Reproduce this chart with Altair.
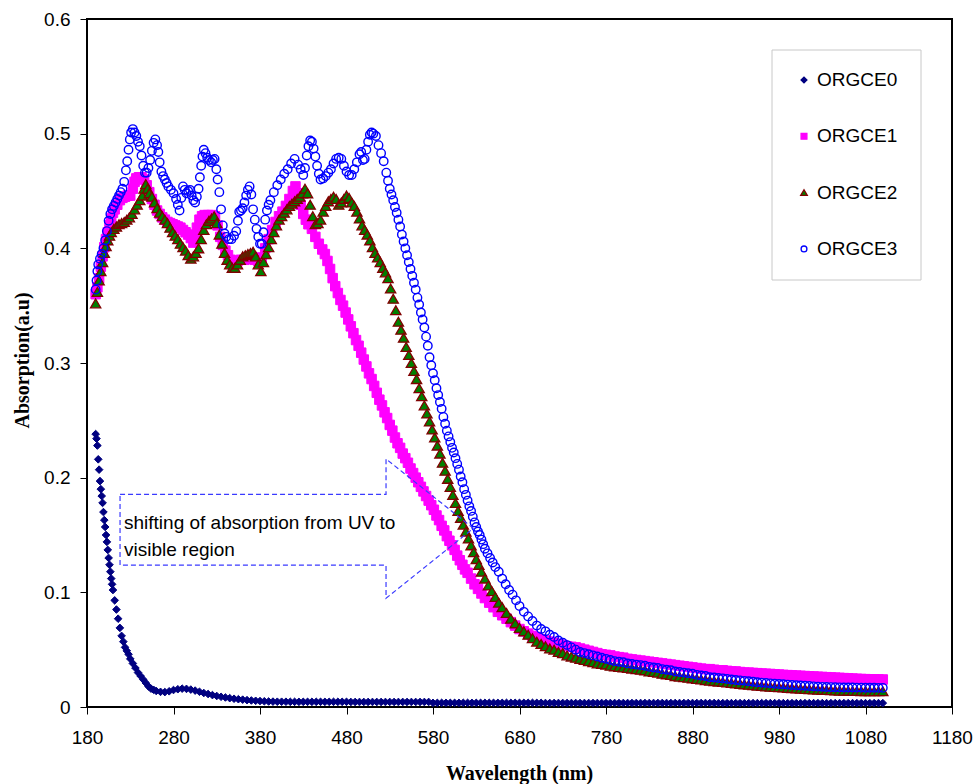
import altair as alt
import pandas as pd

SERIES = ["ORGCE0", "ORGCE1", "ORGCE2", "ORGCE3"]
SHAPES = ["diamond", "square", "triangle-up", "circle"]
FILLS = ["#000080", "#ff00ff", "#008000", "transparent"]
STROKES = ["#000080", "#ff00ff", "#800000", "#0000ff"]

# ---------- ORGCE0 (wavelength nm, absorption) ----------
orgce0_head = [(190, .238), (191, .234), (192, .228), (193, .216), (194, .207), (195, .197),
               (196, .190), (197, .184), (198, .178), (199, .170), (200, .163), (201, .157),
               (202, .150), (203, .144), (204, .137), (205, .130), (206, .124), (207, .118),
               (208, .112), (209, .107), (210, .102), (212, .093), (214, .085), (216, .077),
               (218, .069), (220, .062), (222, .057), (224, .052), (226, .049), (228, .046),
               (230, .042), (233, .038), (236, .034), (239, .030), (242, .027), (245, .024),
               (248, .021), (251, .018), (254, .016), (257, .015)]
orgce0_grid_start = 260
orgce0_grid = [
    .0140, .0132, .0130, .0137, .0148, .0155, .0160, .0158, .0152, .0143,
    .0133, .0122, .0113, .0104, .0096, .0089, .0083, .0077, .0072, .0068,
    .0064, .0060, .0057, .0054, .0052, .0050, .0048, .0047, .0046, .0046,
    .0046, .0045, .0045, .0045, .0045, .0045, .0045, .0045, .0045, .0045,
    .0045, .0045, .0045, .0045, .0045, .0044, .0044, .0044, .0044, .0044,
    .0044, .0044, .0044, .0044, .0044, .0044, .0044, .0044, .0044, .0044,
    .0044, .0044, .0044, .0044, .0036, .0036, .0036, .0036, .0036, .0036,
    .0036, .0036, .0036, .0036, .0036, .0036, .0036, .0036, .0036, .0036,
    .0036, .0036, .0036, .0036, .0036, .0036, .0036, .0036, .0036, .0036,
    .0035, .0035, .0035, .0035, .0035, .0035, .0035, .0035, .0035, .0035,
    .0035, .0035, .0035, .0035, .0035, .0035, .0035, .0035, .0035, .0035,
    .0035, .0035, .0035, .0035, .0035, .0035, .0035, .0035, .0035, .0035,
    .0035, .0035, .0035, .0035, .0035, .0035, .0035, .0035, .0035, .0035,
    .0034, .0034, .0034, .0034, .0034, .0034, .0034, .0034, .0034, .0034,
    .0034, .0034, .0034, .0034, .0034, .0034, .0034, .0034, .0034, .0034,
    .0034, .0034, .0034, .0034, .0034, .0034, .0034, .0034, .0034, .0034,
    .0034, .0034, .0034, .0034, .0034, .0034, .0034, .0034, .0034,
]

# ---------- ORGCE1 ----------
orgce1_head = [(190, .360), (192, .366), (194, .374), (196, .384), (198, .393), (200, .401),
               (202, .408), (204, .414), (206, .420), (208, .426), (210, .431), (212, .434),
               (215, .438), (218, .442), (221, .444), (224, .445), (227, .446), (230, .446),
               (233, .452), (235, .458), (237, .461), (240, .462), (243, .462), (246, .460),
               (249, .455), (252, .449), (255, .443), (258, .438), (261, .433), (264, .430),
               (267, .427), (270, .425), (273, .423), (276, .422), (279, .421), (282, .420),
               (285, .419), (288, .418), (291, .416), (294, .414), (297, .412), (300, .409),
               (303, .405), (305, .410), (307, .418), (310, .425), (313, .428), (316, .429),
               (320, .429), (324, .429), (328, .428), (331, .420), (334, .410), (337, .403),
               (340, .398), (343, .394), (346, .390), (350, .388), (354, .389), (358, .390),
               (362, .390), (366, .391), (370, .391), (374, .390), (378, .389), (382, .392),
               (386, .400), (390, .408), (394, .416), (398, .423), (402, .428), (406, .432),
               (410, .437), (414, .443), (418, .450), (421, .454), (424, .448), (427, .438),
               (430, .430), (433, .425), (436, .421), (440, .417), (444, .410), (448, .404),
               (452, .399), (455, .395), (458, .389), (461, .382), (464, .374), (467, .367),
               (470, .361), (473, .355), (476, .350), (479, .344), (482, .338), (485, .332),
               (488, .326), (491, .320), (494, .315), (497, .309), (500, .303), (503, .297),
               (506, .291), (509, .286), (512, .280), (515, .274), (518, .268), (521, .263),
               (524, .257), (527, .252), (530, .246), (533, .241), (536, .235), (539, .230),
               (542, .226), (545, .221), (548, .217), (551, .213), (554, .208), (557, .204),
               (560, .200), (563, .196), (566, .192), (569, .188), (572, .184), (575, .180),
               (578, .176), (581, .172), (584, .167), (587, .163), (590, .158), (593, .154),
               (596, .149), (599, .145), (602, .141), (605, .137), (608, .132), (611, .128),
               (614, .124), (617, .120), (620, .117), (624, .112), (628, .107), (632, .103),
               (636, .099), (640, .095), (645, .091), (650, .087), (655, .083), (660, .080),
               (665, .077), (670, .074), (675, .071), (680, .068), (685, .066), (690, .064),
               (695, .062)]
orgce1_tail = [
    .061, .059, .058, .057, .056, .055, .054, .053, .0525, .052,
    .051, .050, .049, .048, .047, .046, .0455, .045, .044, .0435,
    .043, .042, .0415, .041, .0405, .040, .0395, .039, .0385, .038,
    .0375, .037, .0365, .036, .0355, .035, .0345, .034, .0335, .033,
    .033, .0325, .032, .032, .0315, .031, .031, .0305, .030, .030,
    .0297, .0295, .0292, .029, .0288, .0285, .0283, .028, .0278, .0276,
    .0274, .0272, .027, .0268, .0266, .0264, .0262, .026, .0258, .0256,
    .0254, .0252, .025, .0248, .0246, .0244, .0243, .0242, .0241, .024,
    .024,
]

# ---------- ORGCE2 ----------
orgce2_head = [(190, .352), (192, .362), (194, .372), (196, .380), (198, .388), (200, .396),
               (202, .402), (204, .407), (206, .411), (208, .414), (211, .417), (214, .419),
               (217, .421), (220, .422), (223, .423), (226, .425), (229, .427), (232, .430),
               (235, .434), (238, .438), (241, .442), (244, .446), (246, .452), (248, .456),
               (250, .452), (252, .448), (255, .445), (258, .440), (261, .435), (264, .431),
               (267, .428), (270, .425), (273, .422), (276, .418), (279, .414), (282, .411),
               (285, .408), (288, .404), (291, .401), (294, .398), (297, .394), (300, .391),
               (303, .393), (306, .396), (309, .400), (312, .408), (315, .416), (318, .421),
               (321, .424), (324, .426), (327, .428), (330, .422), (333, .412), (336, .404),
               (339, .396), (342, .390), (345, .386), (348, .383), (351, .383), (354, .386),
               (357, .390), (360, .393), (363, .394), (366, .395), (369, .396), (372, .397),
               (375, .393), (378, .386), (381, .380), (384, .388), (387, .395), (390, .401),
               (393, .408), (396, .414), (399, .420), (402, .425), (405, .428), (408, .431),
               (411, .434), (414, .437), (417, .439), (420, .441), (423, .443), (426, .445),
               (429, .448), (432, .452), (435, .448), (438, .438), (441, .428), (444, .421),
               (447, .422), (450, .425), (453, .432), (456, .437), (459, .441), (462, .443),
               (465, .445), (468, .443), (471, .438), (474, .440), (477, .443), (480, .446),
               (483, .444), (486, .440), (489, .437), (492, .432), (495, .426), (498, .420),
               (501, .416), (504, .412), (507, .407), (510, .401), (513, .396), (516, .392),
               (519, .388), (522, .383), (525, .379), (528, .374), (531, .365), (534, .356),
               (537, .346), (540, .336), (543, .329), (546, .322), (549, .314), (552, .307),
               (555, .300), (558, .293), (561, .286), (564, .278), (567, .271), (570, .263),
               (573, .256), (576, .249), (579, .242), (582, .235), (585, .228), (588, .221),
               (591, .213), (594, .206), (597, .199), (600, .192), (603, .185), (606, .178),
               (609, .171), (612, .165), (615, .159), (618, .153), (621, .147), (624, .141),
               (627, .135), (630, .129), (633, .124), (636, .118), (640, .112), (644, .106),
               (648, .101), (652, .096), (656, .091), (660, .087), (665, .082), (670, .077),
               (675, .073), (680, .069), (685, .066), (690, .063), (695, .060)]
orgce2_tail = [
    .057, .055, .053, .051, .050, .048, .047, .045, .044, .043,
    .042, .041, .040, .039, .038, .0375, .037, .036, .0355, .035,
    .0345, .034, .0335, .033, .0325, .032, .031, .0305, .030, .029,
    .0285, .028, .027, .0265, .026, .0255, .025, .0245, .024, .0235,
    .023, .0226, .0222, .0218, .0214, .021, .0206, .0202, .0198, .0194,
    .019, .0186, .0183, .018, .0177, .0175, .0172, .017, .0167, .0165,
    .0162, .016, .0157, .0155, .0153, .0151, .015, .0148, .0146, .0145,
    .0143, .0142, .0141, .014, .014, .0139, .0139, .0138, .0138, .0138,
    .0138,
]

# ---------- ORGCE3 ----------
orgce3_head = [(190, .364), (191, .372), (192, .380), (193, .386), (195, .391), (197, .395),
               (199, .400), (201, .407), (203, .415), (205, .424), (207, .430), (209, .434),
               (211, .437), (213, .440), (215, .443), (217, .446), (219, .449), (221, .452),
               (223, .458), (225, .468), (226.5, .476), (228, .486), (229.5, .495), (231, .501),
               (233, .504), (235, .501), (237, .498), (239, .493), (241, .489), (243, .481),
               (245, .472), (247, .466), (249, .466), (251, .470), (253, .477), (255, .485),
               (257, .492), (259, .495), (261, .490), (262.5, .484), (264, .475), (266, .467),
               (268, .463), (270, .460), (272, .457), (274, .454), (277, .451), (280, .448),
               (283, .443), (285, .438), (287, .433), (289, .444), (291, .454), (293, .451),
               (295, .448), (297, .450), (299, .451), (301, .446), (303, .442), (305, .440),
               (307, .445), (309, .452), (310.5, .462), (312, .472), (313.5, .480), (315, .486),
               (317, .483), (319, .479), (321, .477), (323.5, .475), (325.5, .477), (327.5, .478),
               (329.5, .469), (331, .460), (333, .449), (335, .434), (337, .420), (339, .413),
               (341, .410), (344, .408), (347, .408), (350, .411), (352.5, .415), (354.5, .424),
               (356, .432), (358, .433), (360, .435), (362, .440), (364, .446), (366, .451),
               (368, .454), (370, .447), (372, .434), (374, .425), (376, .417), (378, .410),
               (380, .404), (382, .404), (384, .414), (386, .425), (388, .433), (390, .438),
               (392, .442), (396, .449), (400, .455), (404, .460), (408, .465), (412, .469),
               (416, .474), (420, .478), (424, .473), (427, .469), (430, .464), (432, .470),
               (434, .481), (436, .489), (438, .494), (440, .493), (442, .487), (444, .480),
               (446, .472), (448, .465), (450, .460), (453, .461), (456, .463), (459, .466),
               (462, .469), (465, .474), (468, .478), (471, .479), (474, .478), (477, .472),
               (480, .467), (483, .464), (486, .464), (489, .469), (492, .475), (495, .482),
               (497, .484), (499, .477), (501, .478), (503, .486), (505, .493), (507, .499),
               (509, .501), (511, .500), (514, .498), (517, .490), (520, .483), (523, .476),
               (526, .466), (528, .459), (530, .452), (532, .447), (534, .442), (536, .436),
               (538, .431), (540, .425), (542, .419), (544, .412), (546, .406), (548, .400),
               (550, .394), (552, .388), (554, .382), (556, .376), (558, .370), (560, .364),
               (562, .357), (564, .351), (566, .344), (568, .338), (570, .331), (572, .323),
               (574, .315), (576, .305), (578, .298), (580, .291), (582, .285), (584, .278),
               (586, .272), (588, .266), (590, .260), (592, .253), (594, .247), (596, .241),
               (598, .236), (600, .231), (602, .226), (604, .222), (606, .217), (608, .212),
               (610, .207), (612, .201), (614, .196), (616, .190), (618, .185), (620, .180),
               (622, .175), (624, .171), (626, .166), (628, .161), (630, .157), (632, .153),
               (634, .150), (636, .146), (638, .142), (640, .138), (643, .134), (646, .130),
               (649, .126), (652, .122), (656, .118), (660, .112), (664, .107), (668, .102),
               (672, .098), (676, .093), (680, .088), (685, .083), (690, .079), (695, .075)]
orgce3_tail = [
    .071, .068, .066, .063, .061, .058, .056, .054, .052, .050,
    .048, .047, .046, .045, .044, .043, .042, .041, .040, .0395,
    .039, .038, .0375, .037, .0365, .036, .035, .0345, .034, .033,
    .0325, .032, .031, .0305, .030, .0295, .029, .028, .0275, .027,
    .026, .0257, .0253, .025, .0245, .024, .0236, .0232, .0228, .0224,
    .022, .0216, .0213, .021, .0206, .0203, .020, .0198, .0195, .0192,
    .019, .0188, .0185, .0183, .018, .0178, .0176, .0175, .0173, .0172,
    .0171, .017, .017, .017, .0169, .0169, .0168, .0168, .0168, .0167,
    .0167,
]
TAIL_START, STEP = 700, 5

# ---------- annotation arrow outline (data units) ----------
arrow_nm = [218.2, 525.7, 525.7, 626.6, 525.7, 525.7, 218.2, 218.2]
arrow_abs = [0.1855, 0.1855, 0.2163, 0.1558, 0.0948, 0.1238, 0.1238, 0.1855]
annotation_lines = ["shifting of absorption from UV to", "visible region"]

X_TICKS = [180, 280, 380, 480, 580, 680, 780, 880, 980, 1080, 1180]
Y_TICKS = [0, 0.1, 0.2, 0.3, 0.4, 0.5, 0.6]

# ---------- build table ----------
rows = []


def add(name, head, grid_start, grid_vals):
    for nm, v in head:
        rows.append({"series": name, "nm": nm, "abs": v})
    for i, v in enumerate(grid_vals):
        rows.append({"series": name, "nm": grid_start + STEP * i, "abs": v})


add("ORGCE0", orgce0_head, orgce0_grid_start, orgce0_grid)
add("ORGCE1", orgce1_head, TAIL_START, orgce1_tail)
add("ORGCE2", orgce2_head, TAIL_START, orgce2_tail)
add("ORGCE3", orgce3_head, TAIL_START, orgce3_tail)
df = pd.DataFrame(rows)

arrow_df = pd.DataFrame({"nm": arrow_nm, "abs": arrow_abs, "idx": list(range(len(arrow_nm)))})

x_enc = alt.X("nm:Q", scale=alt.Scale(domain=[180, 1180], nice=False, zero=False),
              axis=alt.Axis(values=X_TICKS, format="d", title="Wavelength (nm)", labelFlush=False,
                            labelPadding=14, titleX=432, titleY=66, titleAlign="center",
                            titleBaseline="middle"))
y_enc = alt.Y("abs:Q", scale=alt.Scale(domain=[0, 0.6], nice=False),
              axis=alt.Axis(values=Y_TICKS, format=".1~f", title="Absorption(a.u)",
                            labelPadding=10, titleX=-65, titleY=341, titleAngle=-90,
                            titleAlign="center", titleBaseline="middle"))

shape_enc = alt.Shape("series:N", scale=alt.Scale(domain=SERIES, range=SHAPES), legend=None)
fill_enc = alt.Fill("series:N", scale=alt.Scale(domain=SERIES, range=FILLS), legend=None)
stroke_enc = alt.Stroke("series:N", scale=alt.Scale(domain=SERIES, range=STROKES), legend=None)

sizes = {"ORGCE0": 58, "ORGCE1": 90, "ORGCE2": 105, "ORGCE3": 72}
widths = {"ORGCE0": 1, "ORGCE1": 1, "ORGCE2": 1.3, "ORGCE3": 1.4}

layers = []
for s in SERIES:
    layers.append(
        alt.Chart(df).transform_filter(alt.datum.series == s)
        .mark_point(filled=True, opacity=1, size=sizes[s], strokeWidth=widths[s])
        .encode(x=x_enc, y=y_enc, shape=shape_enc, fill=fill_enc, stroke=stroke_enc)
    )

arrow = alt.Chart(arrow_df).mark_line(strokeDash=[5, 3], color="#3a3aff", strokeWidth=1.2).encode(
    x="nm:Q", y="abs:Q", order="idx:Q")

text = alt.Chart(pd.DataFrame({"k": [0]})).mark_text(
    align="left", baseline="middle", fontSize=19, font="Liberation Sans",
    lineHeight=26.7, color="black").encode(
    x=alt.value(37), y=alt.value(504), text=alt.value(annotation_lines))

# ---------- hand-drawn legend box (pixel layout) ----------
one = pd.DataFrame({"k": [0]})
legend_layers = [
    alt.Chart(one).mark_rect(fill="white", stroke="#c8c8c8", strokeWidth=1).encode(
        x=alt.value(685), x2=alt.value(834), y=alt.value(31), y2=alt.value(261))
]
LEG_SYMBOL_SIZES = [34, 34, 44, 34]
for i, s in enumerate(SERIES):
    yy = 61 + 56.3 * i
    legend_layers.append(
        alt.Chart(one).mark_point(filled=True, opacity=1, shape=SHAPES[i], fill=FILLS[i],
                                  stroke=STROKES[i], strokeWidth=1.3,
                                  size=LEG_SYMBOL_SIZES[i]).encode(
            x=alt.value(717), y=alt.value(yy)))
    legend_layers.append(
        alt.Chart(one).mark_text(align="left", baseline="middle", fontSize=19,
                                 font="Liberation Sans", color="black").encode(
            x=alt.value(730), y=alt.value(yy), text=alt.value(s)))

chart = alt.layer(*layers, arrow, text, *legend_layers).properties(
    width=865, height=688,
    autosize=alt.AutoSizeParams(type="none"),
    padding={"left": 87, "top": 19, "right": 24, "bottom": 77},
    background="white",
).configure_view(stroke="black", strokeWidth=2).configure_axis(
    labelFont="Liberation Sans", labelFontSize=19, labelColor="black",
    tickColor="black", tickSize=7, tickWidth=1, grid=False, domain=False,
    titleFont="Liberation Serif", titleFontWeight="bold", titleFontSize=20, titleColor="black",
)

chart.save("out.html", embed_options={"renderer": "svg", "actions": False})
